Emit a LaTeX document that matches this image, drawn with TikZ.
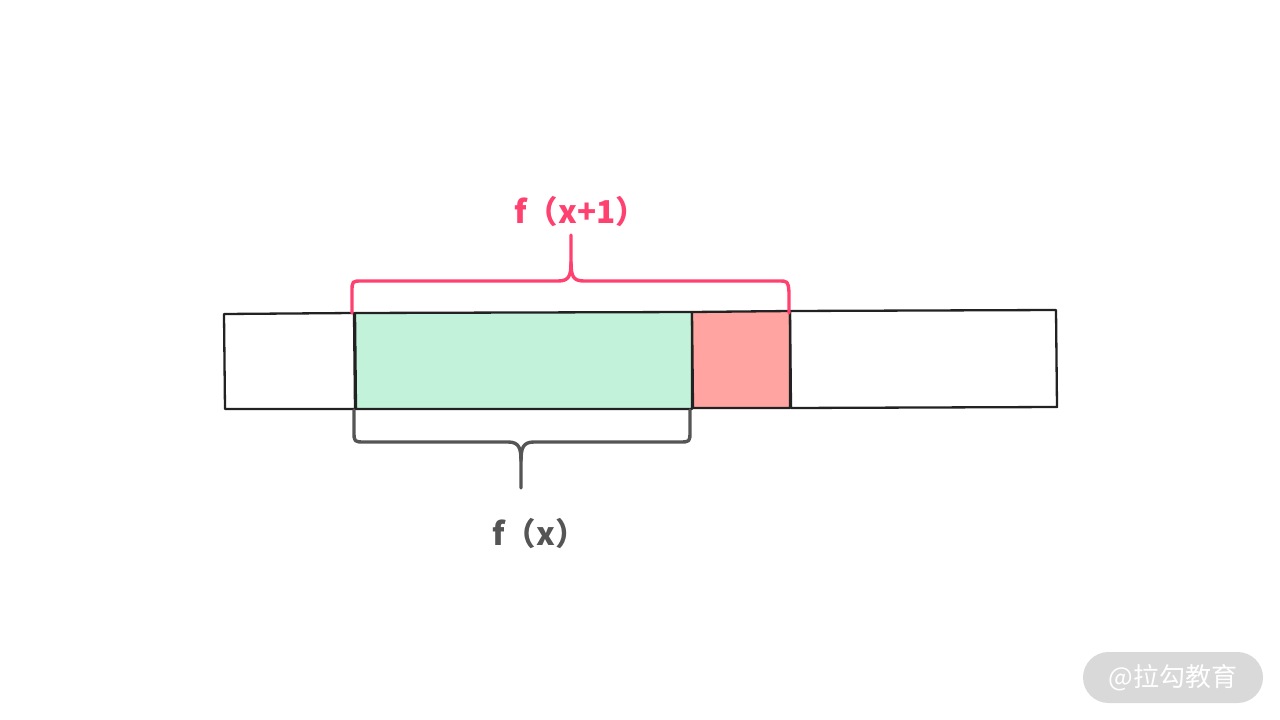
\documentclass[tikz,border=0pt]{standalone}
\usepackage{fontspec}
\newfontfamily\cjk{Noto Sans CJK SC}
\definecolor{braceRed}{HTML}{FF4170}
\definecolor{braceGray}{HTML}{555555}
\definecolor{cellGreen}{HTML}{C3F2DA}
\definecolor{cellRed}{HTML}{FFA4A0}
\definecolor{stripInk}{HTML}{222222}
\definecolor{markGray}{HTML}{D9D9D9}
\begin{document}
\begin{tikzpicture}[x=1pt,y=-1pt,
	cell/.style = {draw = stripInk, line width = 2.3pt, line join = round},
	brace/.style = {line width = 3.4pt, line cap = round, line join = round},
	label/.style = {inner sep = 0pt, anchor = base west, font = \cjk\bfseries\fontsize{31.5}{31.5}\selectfont}]
	\useasboundingbox (0,0) rectangle (1280,720);
	% the strip of cells
	\draw [cell] (224,314) -- (354,313) -- (355,409) -- (225,409) -- cycle;
	\draw [cell, fill = cellGreen] (355,313) -- (692,312) -- (692,409) -- (356,409) -- cycle;
	\draw [cell, fill = cellRed] (692,312) -- (790,311) -- (790,408) -- (693,408) -- cycle;
	\draw [cell] (790,311) -- (1056,310) -- (1057,407) -- (791,408) -- cycle;
	% brace over f(x+1)
	\coordinate (topTip) at (571,235);
	\draw [brace, braceRed] (352,313) -- (352,292) .. controls (352,281) .. (362,281) -- (558,281)
		.. controls (569,281) and (571,276) .. (571,262) -- (topTip);
	\draw [brace, braceRed] (571,262) .. controls (571,276) and (573,281) .. (584,281) -- (778,281)
		.. controls (788,281) .. (789,292) -- (789,313);
	\node [label, text = braceRed] (fxone) at (514,223.5) {f（x+1）};
	% brace under f(x)
	\coordinate (botTip) at (521,488);
	\draw [brace, braceGray] (354,410) -- (354,431) .. controls (354,442) .. (365,442) -- (508,442)
		.. controls (519,442) and (521,448) .. (521,461) -- (botTip);
	\draw [brace, braceGray] (521,461) .. controls (521,448) and (523,442) .. (534,442) -- (679,442)
		.. controls (690,442) .. (690,431) -- (690,410);
	\node [label, text = braceGray] (fx) at (492,545.5) {f（x）};
	% watermark
	\node [fill = markGray, rounded corners = 25.5pt, minimum width = 180pt, minimum height = 51pt,
		text = white, font = \cjk\fontsize{26}{26}\selectfont] (mark) at (1173,677.5) {@拉勾教育};
\end{tikzpicture}
\end{document}
